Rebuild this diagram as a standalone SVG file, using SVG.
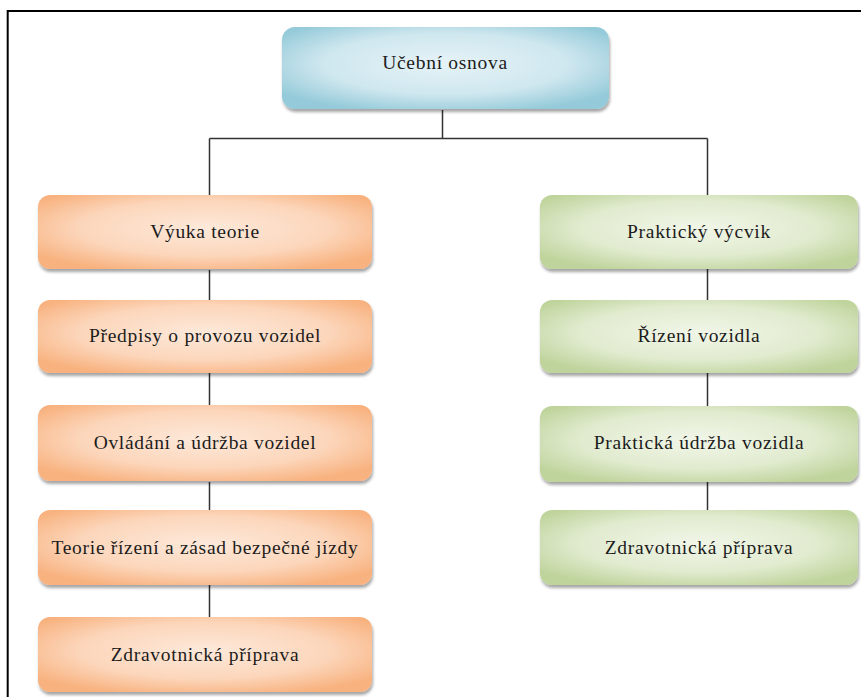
<svg xmlns="http://www.w3.org/2000/svg" width="861" height="697" viewBox="0 0 861 697">
<style>
.lbl{font-family:"Liberation Serif","Times New Roman",serif;font-size:19.5px;letter-spacing:0.7px;fill:#1c1c1c;text-anchor:middle}
.conn{stroke:#333;stroke-width:1.5;fill:none}
.frame{stroke:#000;stroke-width:2;fill:none}
.box{filter:url(#sh)}
</style>
<defs>
<filter id="sh" x="-10%" y="-20%" width="120%" height="150%">
<feDropShadow dx="1" dy="3" stdDeviation="1.8" flood-color="#000" flood-opacity="0.35"/>
</filter>
<radialGradient id="gB" cx="0.5" cy="0.45" r="0.62">
<stop offset="0" stop-color="#e6f3f7"/>
<stop offset="0.6" stop-color="#cfe7ef"/>
<stop offset="1" stop-color="#94cad9"/>
</radialGradient>
<radialGradient id="gO" cx="0.5" cy="0.45" r="0.62">
<stop offset="0" stop-color="#fde9da"/>
<stop offset="0.6" stop-color="#fcd6bb"/>
<stop offset="1" stop-color="#f8b27f"/>
</radialGradient>
<radialGradient id="gG" cx="0.5" cy="0.45" r="0.62">
<stop offset="0" stop-color="#f1f6e8"/>
<stop offset="0.6" stop-color="#e1ebcf"/>
<stop offset="1" stop-color="#bfd49c"/>
</radialGradient>
</defs>
<rect width="861" height="697" fill="#fff"/>
<path class="frame" d="M7.7 697 V11 H861"/>
<g id="connectors">
<path class="conn" d="M442.5 110 V138.5 M209.5 138.5 H707.5 M209.5 138.5 V195 M707.5 138.5 V195"/>
<path class="conn" d="M209.5 270 V300 M209.5 373 V405 M209.5 482 V510 M209.5 585 V617"/>
<path class="conn" d="M707.5 269 V300 M707.5 373 V406 M707.5 482 V510"/>
</g>
<g id="n-root"><rect class="box" x="282" y="27" width="327" height="82" rx="13" fill="url(#gB)"/><text class="lbl" x="445" y="69">Učební osnova</text></g>
<g id="n-l1"><rect class="box" x="38" y="195" width="334" height="74" rx="12" fill="url(#gO)"/><text class="lbl" x="205" y="238">Výuka teorie</text></g>
<g id="n-l2"><rect class="box" x="38" y="300" width="334" height="73" rx="12" fill="url(#gO)"/><text class="lbl" x="205" y="342">Předpisy o provozu vozidel</text></g>
<g id="n-l3"><rect class="box" x="38" y="405" width="334" height="76" rx="12" fill="url(#gO)"/><text class="lbl" x="205" y="449">Ovládání a údržba vozidel</text></g>
<g id="n-l4"><rect class="box" x="38" y="510" width="334" height="75" rx="12" fill="url(#gO)"/><text class="lbl" x="205" y="554">Teorie řízení a zásad bezpečné jízdy</text></g>
<g id="n-l5"><rect class="box" x="38" y="617" width="334" height="75" rx="12" fill="url(#gO)"/><text class="lbl" x="205" y="661">Zdravotnická příprava</text></g>
<g id="n-r1"><rect class="box" x="540" y="195" width="318" height="74" rx="12" fill="url(#gG)"/><text class="lbl" x="699" y="238">Praktický výcvik</text></g>
<g id="n-r2"><rect class="box" x="540" y="300" width="318" height="73" rx="12" fill="url(#gG)"/><text class="lbl" x="699" y="342">Řízení vozidla</text></g>
<g id="n-r3"><rect class="box" x="540" y="406" width="318" height="76" rx="12" fill="url(#gG)"/><text class="lbl" x="699" y="449">Praktická údržba vozidla</text></g>
<g id="n-r4"><rect class="box" x="540" y="510" width="318" height="75" rx="12" fill="url(#gG)"/><text class="lbl" x="699" y="554">Zdravotnická příprava</text></g>
</svg>
